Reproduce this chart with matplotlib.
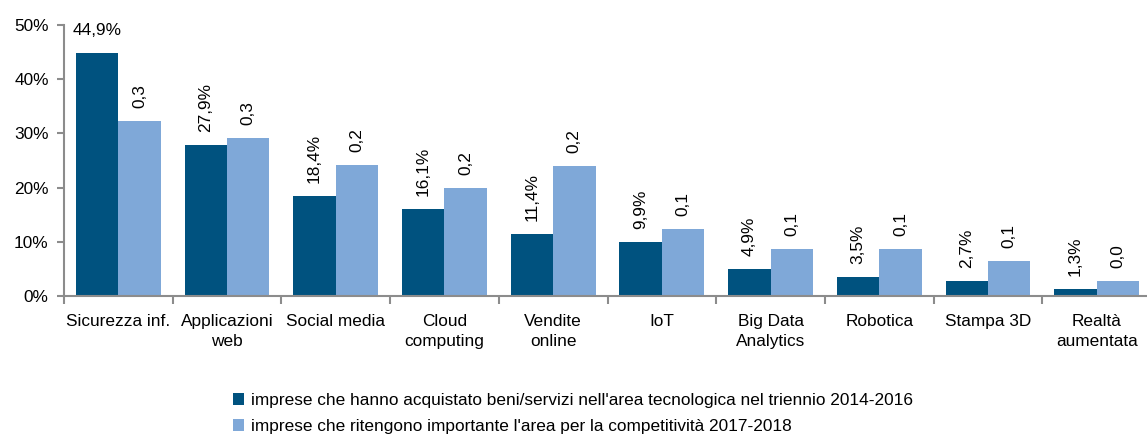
import numpy as np
import matplotlib.pyplot as plt

plt.rcParams['font.family'] = ['Liberation Sans', 'DejaVu Sans']

# Dati
categorie = ['Sicurezza inf.', 'Applicazioni\nweb', 'Social media', 'Cloud\ncomputing',
             'Vendite\nonline', 'IoT', 'Big Data\nAnalytics', 'Robotica', 'Stampa 3D',
             'Realtà\naumentata']
acquistato = [44.9, 27.9, 18.4, 16.1, 11.4, 9.9, 4.9, 3.5, 2.7, 1.3]
importante = [32.2, 29.1, 24.2, 20.0, 23.9, 12.4, 8.6, 8.6, 6.5, 2.7]
serie = ["imprese che hanno acquistato beni/servizi nell'area tecnologica nel triennio 2014-2016",
         "imprese che ritengono importante l'area per la competitività 2017-2018"]

scuro = '#00527F'
chiaro = '#7FA8D8'
grigio = '#8C8C8C'
fs = 12.4

fig = plt.figure(figsize=(11.47, 4.36), dpi=100)
ax = fig.add_axes([64 / 1147, 140 / 436, 1087 / 1147, 271 / 436])

x = np.arange(len(categorie))
w = 0.39
b1 = ax.bar(x - w / 2, acquistato, w, color=scuro, label=serie[0])
b2 = ax.bar(x + w / 2, importante, w, color=chiaro, label=serie[1])

# Etichette dei valori
for i, v in enumerate(acquistato):
    testo = f'{v:.1f}%'.replace('.', ',')
    if v > 40:
        ax.text(x[i] - w / 2, 48.9, testo, ha='center', va='center', fontsize=fs)
    else:
        ax.text(x[i] - w / 2, v + 2.4, testo, ha='center', va='bottom',
                rotation=90, fontsize=fs)
for i, v in enumerate(importante):
    testo = f'{v / 100:.1f}'.replace('.', ',')
    ax.text(x[i] + w / 2, v + 2.4, testo, ha='center', va='bottom',
            rotation=90, fontsize=fs)

ax.set_xlim(-0.5, len(categorie) - 0.5)
ax.set_ylim(0, 50)
ax.set_yticks(np.arange(0, 51, 10))
ax.set_yticklabels([f'{t}%' for t in range(0, 51, 10)], fontsize=fs)
ax.set_xticks(x)
ax.set_xticklabels(categorie, fontsize=fs, linespacing=1.45)
ax.tick_params(axis='x', length=0, pad=13)
ax.set_xticks(np.arange(-0.5, len(categorie), 1), minor=True)
ax.tick_params(axis='x', which='minor', length=6, color=grigio, width=1.5)
ax.tick_params(axis='y', length=5, color=grigio, width=1.5, pad=6)

for s in ['top', 'right']:
    ax.spines[s].set_visible(False)
for s in ['left', 'bottom']:
    ax.spines[s].set_color(grigio)
    ax.spines[s].set_linewidth(1.5)

fig.legend(handles=[b1, b2], loc='upper left', bbox_to_anchor=(226 / 1147, 1 - 386 / 436),
           frameon=False, fontsize=fs, handlelength=0.65, handleheight=0.65,
           handletextpad=0.4, labelspacing=0.65, borderaxespad=0)

fig.savefig('out.png', dpi=100)
